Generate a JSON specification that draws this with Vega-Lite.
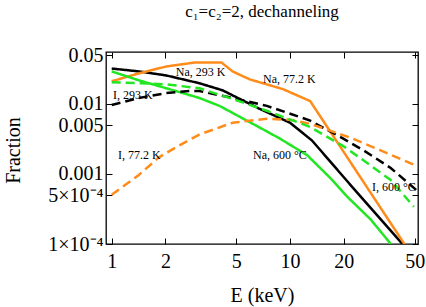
{
  "$schema": "https://vega.github.io/schema/vega-lite/v6.json",
  "width": 312,
  "height": 192,
  "autosize": {"type": "none"},
  "padding": {"left": 106, "top": 52, "right": 8, "bottom": 63},
  "background": "white",
  "title": {"text": "c₁=c₂=2, dechanneling", "font": "Liberation Serif", "fontSize": 17, "fontWeight": "normal", "color": "black", "anchor": "middle", "frame": "group", "baseline": "alphabetic", "offset": 11},
  "config": {
    "view": {"stroke": "black", "strokeWidth": 1.3},
    "axis": {"grid": false, "domain": false, "tickColor": "black", "tickWidth": 1, "labelColor": "black", "titleColor": "black", "labelFont": "Liberation Serif", "titleFont": "Liberation Serif", "titleFontWeight": "normal", "labelOverlap": false, "labelFlush": false}
  },
  "datasets": {
    "curves": [
      {"series": "Na 293 K", "ion": "Na", "temp": "293 K", "E": 1.0, "F": 0.0321},
      {"series": "Na 293 K", "ion": "Na", "temp": "293 K", "E": 1.42, "F": 0.0292},
      {"series": "Na 293 K", "ion": "Na", "temp": "293 K", "E": 2.02, "F": 0.0256},
      {"series": "Na 293 K", "ion": "Na", "temp": "293 K", "E": 3.1, "F": 0.0198},
      {"series": "Na 293 K", "ion": "Na", "temp": "293 K", "E": 4.18, "F": 0.0157},
      {"series": "Na 293 K", "ion": "Na", "temp": "293 K", "E": 6.77, "F": 0.0085},
      {"series": "Na 293 K", "ion": "Na", "temp": "293 K", "E": 10.0, "F": 0.0054},
      {"series": "Na 293 K", "ion": "Na", "temp": "293 K", "E": 13.3, "F": 0.003},
      {"series": "Na 293 K", "ion": "Na", "temp": "293 K", "E": 21.8, "F": 0.0007},
      {"series": "Na 293 K", "ion": "Na", "temp": "293 K", "E": 45.2, "F": 0.000085},
      {"series": "Na 77.2 K", "ion": "Na", "temp": "77.2 K", "E": 1.0, "F": 0.0211},
      {"series": "Na 77.2 K", "ion": "Na", "temp": "77.2 K", "E": 1.42, "F": 0.0274},
      {"series": "Na 77.2 K", "ion": "Na", "temp": "77.2 K", "E": 2.02, "F": 0.0343},
      {"series": "Na 77.2 K", "ion": "Na", "temp": "77.2 K", "E": 2.91, "F": 0.0391},
      {"series": "Na 77.2 K", "ion": "Na", "temp": "77.2 K", "E": 4.13, "F": 0.0391},
      {"series": "Na 77.2 K", "ion": "Na", "temp": "77.2 K", "E": 4.76, "F": 0.0292},
      {"series": "Na 77.2 K", "ion": "Na", "temp": "77.2 K", "E": 5.94, "F": 0.0225},
      {"series": "Na 77.2 K", "ion": "Na", "temp": "77.2 K", "E": 9.13, "F": 0.0163},
      {"series": "Na 77.2 K", "ion": "Na", "temp": "77.2 K", "E": 12.97, "F": 0.011},
      {"series": "Na 77.2 K", "ion": "Na", "temp": "77.2 K", "E": 46.4, "F": 0.00008},
      {"series": "Na 600 °C", "ion": "Na", "temp": "600 °C", "E": 1.0, "F": 0.0292},
      {"series": "Na 600 °C", "ion": "Na", "temp": "600 °C", "E": 1.42, "F": 0.0218},
      {"series": "Na 600 °C", "ion": "Na", "temp": "600 °C", "E": 2.02, "F": 0.0168},
      {"series": "Na 600 °C", "ion": "Na", "temp": "600 °C", "E": 3.1, "F": 0.0122},
      {"series": "Na 600 °C", "ion": "Na", "temp": "600 °C", "E": 4.02, "F": 0.0094},
      {"series": "Na 600 °C", "ion": "Na", "temp": "600 °C", "E": 6.77, "F": 0.0046},
      {"series": "Na 600 °C", "ion": "Na", "temp": "600 °C", "E": 8.78, "F": 0.0032},
      {"series": "Na 600 °C", "ion": "Na", "temp": "600 °C", "E": 12.5, "F": 0.00185},
      {"series": "Na 600 °C", "ion": "Na", "temp": "600 °C", "E": 16.8, "F": 0.00088},
      {"series": "Na 600 °C", "ion": "Na", "temp": "600 °C", "E": 21.0, "F": 0.00047},
      {"series": "Na 600 °C", "ion": "Na", "temp": "600 °C", "E": 28.3, "F": 0.000225},
      {"series": "Na 600 °C", "ion": "Na", "temp": "600 °C", "E": 39.2, "F": 0.000082},
      {"series": "I 293 K", "ion": "I", "temp": "293 K", "E": 1.0, "F": 0.0097},
      {"series": "I 293 K", "ion": "I", "temp": "293 K", "E": 1.42, "F": 0.0122},
      {"series": "I 293 K", "ion": "I", "temp": "293 K", "E": 2.02, "F": 0.0143},
      {"series": "I 293 K", "ion": "I", "temp": "293 K", "E": 2.72, "F": 0.0153},
      {"series": "I 293 K", "ion": "I", "temp": "293 K", "E": 3.1, "F": 0.0153},
      {"series": "I 293 K", "ion": "I", "temp": "293 K", "E": 4.76, "F": 0.0122},
      {"series": "I 293 K", "ion": "I", "temp": "293 K", "E": 7.41, "F": 0.0094},
      {"series": "I 293 K", "ion": "I", "temp": "293 K", "E": 12.97, "F": 0.0058},
      {"series": "I 293 K", "ion": "I", "temp": "293 K", "E": 19.9, "F": 0.0032},
      {"series": "I 293 K", "ion": "I", "temp": "293 K", "E": 25.8, "F": 0.00218},
      {"series": "I 293 K", "ion": "I", "temp": "293 K", "E": 36.7, "F": 0.00122},
      {"series": "I 293 K", "ion": "I", "temp": "293 K", "E": 51.5, "F": 0.00058},
      {"series": "I 77.2 K", "ion": "I", "temp": "77.2 K", "E": 1.0, "F": 0.000506},
      {"series": "I 77.2 K", "ion": "I", "temp": "77.2 K", "E": 1.42, "F": 0.00097},
      {"series": "I 77.2 K", "ion": "I", "temp": "77.2 K", "E": 1.84, "F": 0.00173},
      {"series": "I 77.2 K", "ion": "I", "temp": "77.2 K", "E": 2.39, "F": 0.00256},
      {"series": "I 77.2 K", "ion": "I", "temp": "77.2 K", "E": 3.1, "F": 0.00366},
      {"series": "I 77.2 K", "ion": "I", "temp": "77.2 K", "E": 4.76, "F": 0.0054},
      {"series": "I 77.2 K", "ion": "I", "temp": "77.2 K", "E": 7.41, "F": 0.00615},
      {"series": "I 77.2 K", "ion": "I", "temp": "77.2 K", "E": 10.0, "F": 0.00595},
      {"series": "I 77.2 K", "ion": "I", "temp": "77.2 K", "E": 12.97, "F": 0.0052},
      {"series": "I 77.2 K", "ion": "I", "temp": "77.2 K", "E": 21.8, "F": 0.0033},
      {"series": "I 77.2 K", "ion": "I", "temp": "77.2 K", "E": 32.2, "F": 0.00218},
      {"series": "I 77.2 K", "ion": "I", "temp": "77.2 K", "E": 51.5, "F": 0.0013},
      {"series": "I 600 °C", "ion": "I", "temp": "600 °C", "E": 1.0, "F": 0.0204},
      {"series": "I 600 °C", "ion": "I", "temp": "600 °C", "E": 1.42, "F": 0.0198},
      {"series": "I 600 °C", "ion": "I", "temp": "600 °C", "E": 2.02, "F": 0.0191},
      {"series": "I 600 °C", "ion": "I", "temp": "600 °C", "E": 3.1, "F": 0.0168},
      {"series": "I 600 °C", "ion": "I", "temp": "600 °C", "E": 4.76, "F": 0.0118},
      {"series": "I 600 °C", "ion": "I", "temp": "600 °C", "E": 7.41, "F": 0.008},
      {"series": "I 600 °C", "ion": "I", "temp": "600 °C", "E": 12.97, "F": 0.0047},
      {"series": "I 600 °C", "ion": "I", "temp": "600 °C", "E": 19.9, "F": 0.0025},
      {"series": "I 600 °C", "ion": "I", "temp": "600 °C", "E": 25.8, "F": 0.00157},
      {"series": "I 600 °C", "ion": "I", "temp": "600 °C", "E": 36.7, "F": 0.00082},
      {"series": "I 600 °C", "ion": "I", "temp": "600 °C", "E": 49.5, "F": 0.00034}
    ],
    "labels": [
      {"label": "Na, 293 K", "E": 2.29, "F": 0.0287},
      {"label": "Na, 77.2 K", "E": 7.06, "F": 0.0228},
      {"label": "I, 293 K", "E": 1.017, "F": 0.01344},
      {"label": "I, 77.2 K", "E": 1.085, "F": 0.00187},
      {"label": "Na, 600 °C", "E": 6.2, "F": 0.00187},
      {"label": "I, 600 °C", "E": 28.8, "F": 0.000652}
    ]
  },
  "layer": [
    {
      "data": {"name": "curves"},
      "mark": {"type": "line", "strokeWidth": 2.5, "clip": true},
      "encoding": {
        "x": {"field": "E", "type": "quantitative",
          "scale": {"type": "log", "domain": [0.929, 52.2], "nice": false},
          "axis": {"orient": "bottom", "values": [1, 2, 5, 10, 20, 50], "format": "~g", "tickSize": -6, "labelFontSize": 20, "labelPadding": 13, "title": "E (keV)", "titleFontSize": 20, "titleBaseline": "alphabetic", "titleY": 57}},
        "y": {"field": "F", "type": "quantitative",
          "scale": {"type": "log", "domain": [0.0001, 0.0553], "nice": false},
          "axis": {"orient": "left", "values": [0.05, 0.01, 0.005, 0.001, 0.0005, 0.0001], "format": "~g", "labelExpr": "datum.value < 0.00015 ? '1×10⁻⁴' : (datum.value < 0.0006 ? '5×10⁻⁴' : datum.label)", "tickSize": -6, "labelFontSize": 20, "labelPadding": 9, "title": "Fraction", "titleFontSize": 20, "titleAngle": -90, "titleAlign": "center", "titleBaseline": "middle", "titleX": -93, "titleY": 98}},
        "color": {"field": "temp", "type": "nominal", "scale": {"domain": ["293 K", "77.2 K", "600 °C"], "range": ["#000000", "#FF8C1A", "#22E622"]}, "legend": null},
        "strokeDash": {"field": "ion", "type": "nominal", "scale": {"domain": ["Na", "I"], "range": [[1, 0], [9, 5]]}, "legend": null},
        "detail": {"field": "series"}
      }
    },
    {
      "data": {"name": "labels"},
      "mark": {"type": "text", "align": "left", "baseline": "middle", "font": "Liberation Serif", "fontSize": 12, "color": "black"},
      "encoding": {
        "x": {"field": "E", "type": "quantitative",
          "scale": {"type": "log", "domain": [0.929, 52.2], "nice": false},
          "axis": {"orient": "top", "values": [1, 2, 5, 10, 20, 50], "labels": false, "tickSize": -6, "title": null}},
        "y": {"field": "F", "type": "quantitative",
          "scale": {"type": "log", "domain": [0.0001, 0.0553], "nice": false},
          "axis": {"orient": "right", "values": [0.05, 0.01, 0.005, 0.001, 0.0005, 0.0001], "labels": false, "tickSize": -6, "title": null}},
        "text": {"field": "label", "type": "nominal"}
      }
    }
  ],
  "resolve": {"axis": {"x": "independent", "y": "independent"}}
}
